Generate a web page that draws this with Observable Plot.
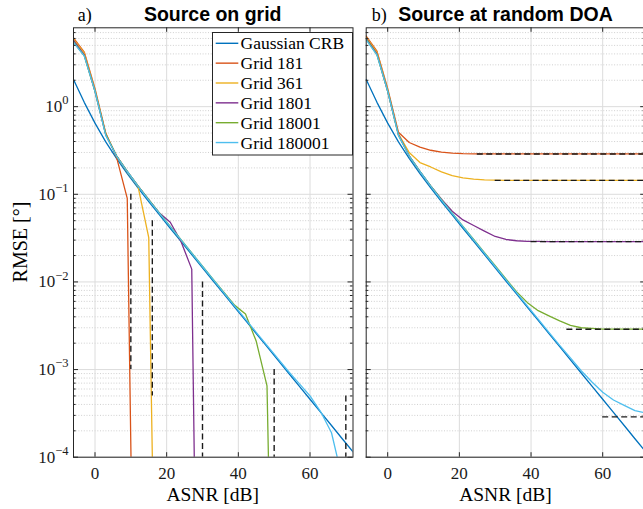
<!DOCTYPE html>
<html>
<head>
<meta charset="utf-8">
<script src="https://cdn.jsdelivr.net/npm/d3@7"></script>
<script src="https://cdn.jsdelivr.net/npm/@observablehq/plot@0.6"></script>
<style>
  html, body { margin: 0; padding: 0; background: #fff; }
  #wrap { position: relative; width: 643px; height: 509px; overflow: hidden; background: #fff; }
  #wrap svg { position: absolute; top: 0; }
</style>
</head>
<body>
<div id="wrap"></div>
<script>
// ---------- data ----------
const asnr = [-6, -3, 0, 3, 6, 9, 12, 15, 18, 21, 24, 27, 30, 33, 36, 39, 42, 45, 48, 51, 54, 57, 60, 63, 66, 69, 72];

const gaussianCRB = [2.04, 1.12, 0.648, 0.397, 0.257, 0.1725, 0.1186, 0.0827, 0.0581, 0.041, 0.029, 0.0205, 0.01449, 0.01025, 0.00726, 0.00514, 0.00364, 0.002575, 0.001823, 0.001291, 0.000914, 0.000647, 0.000458, 0.000324, 0.00023, 0.0001625, 0.000115];

// a) Source on grid
const grid181OnGrid = [6.1, 4.2, 1.6, 0.50, 0.265, 0.09, 3e-10];
const grid361OnGrid = [5.9, 4.1, 1.55, 0.49, 0.275, 0.18, 0.123, 0.032, 1e-9];
const grid1801OnGrid = [5.7, 3.9, 1.5, 0.48, 0.275, 0.183, 0.125, 0.087, 0.061, 0.048, 0.029, 0.014, 1e-11];
const grid18001OnGrid = [5.5, 3.8, 1.5, 0.48, 0.275, 0.183, 0.125, 0.087, 0.061, 0.043, 0.0303, 0.0214, 0.0151, 0.0107, 0.0076, 0.0054, 0.0043, 0.0021, 0.00065, 5e-10];
const grid180001OnGrid = [5.4, 3.8, 1.5, 0.47, 0.273, 0.182, 0.124, 0.086, 0.0605, 0.0428, 0.0302, 0.0213, 0.015, 0.0106, 0.0075, 0.0053, 0.00376, 0.00266, 0.00189, 0.00134, 0.00095, 0.00069, 0.0005, 0.00033, 0.00019, 0.000057, 1e-10];

// b) Source at random DOA
const grid181Random = [6.4, 4.3, 1.6, 0.51, 0.39, 0.345, 0.318, 0.302, 0.295, 0.291, 0.2895, 0.289, 0.2888, 0.2888, 0.2888, 0.2888, 0.2888, 0.2888, 0.2888, 0.2888, 0.2888, 0.2888, 0.2888, 0.2888, 0.2888, 0.2888, 0.2888];
const grid361Random = [6.2, 4.2, 1.55, 0.49, 0.30, 0.23, 0.205, 0.18, 0.163, 0.154, 0.149, 0.146, 0.1448, 0.1444, 0.1444, 0.1444, 0.1444, 0.1444, 0.1444, 0.1444, 0.1444, 0.1444, 0.1444, 0.1444, 0.1444, 0.1444, 0.1444];
const grid1801Random = [6.0, 4.0, 1.5, 0.48, 0.275, 0.183, 0.125, 0.088, 0.064, 0.051, 0.044, 0.038, 0.033, 0.0305, 0.0295, 0.0291, 0.029, 0.0289, 0.0289, 0.0289, 0.0289, 0.0289, 0.0289, 0.0289, 0.0289, 0.0289, 0.0289];
const grid18001Random = [5.9, 3.9, 1.5, 0.47, 0.275, 0.183, 0.125, 0.087, 0.061, 0.043, 0.0305, 0.0216, 0.0153, 0.0108, 0.0077, 0.0058, 0.0047, 0.0041, 0.0036, 0.0032, 0.0030, 0.00295, 0.0029, 0.0029, 0.0029, 0.0029, 0.0029];
const grid180001Random = [5.8, 3.9, 1.5, 0.47, 0.273, 0.182, 0.124, 0.086, 0.0605, 0.0428, 0.0302, 0.0213, 0.015, 0.0106, 0.0075, 0.0053, 0.00376, 0.00266, 0.00189, 0.00136, 0.00097, 0.00072, 0.00055, 0.00045, 0.00039, 0.00034, 0.00032];

const seriesNames = ["Gaussian CRB", "Grid 181", "Grid 361", "Grid 1801", "Grid 18001", "Grid 180001"];
const seriesColors = ["#0072BD", "#D95319", "#EDB120", "#7E2F8E", "#77AC30", "#4DBEEE"];

// dashed threshold markers
const onGridDashX = [10, 16, 30, 50, 70];
const onGridDashTop = [0.1, 0.05, 0.01, 0.001, 0.0005];
const onGridDashBottom = [0.001, 0.0005, 0.0001, 0.00001, 0.000005];
const randomFloorLevel = [0.2887, 0.1443, 0.02887, 0.002887, 0.0002887];
const randomFloorStart = [25, 30, 40, 50, 60];

// axes
const xDomain = [-6, 72];
const yDomain = [1e-4, 7.94];
const xTicks = [0, 20, 40, 60];
const yTicks = [1e-4, 1e-3, 1e-2, 1e-1, 1];
const yMinor = yTicks.flatMap(d => [2, 3, 4, 5, 6, 7, 8, 9].map(m => m * d)).filter(v => v <= yDomain[1]);

// ---------- helpers ----------
function rowsOf(seriesList) {
  const rows = [];
  seriesList.forEach((vals, k) => vals.forEach((v, i) => rows.push({name: seriesNames[k], x: asnr[i], y: v})));
  return rows;
}
const onGridRows = rowsOf([gaussianCRB, grid181OnGrid, grid361OnGrid, grid1801OnGrid, grid18001OnGrid, grid180001OnGrid]);
const randomRows = rowsOf([gaussianCRB, grid181Random, grid361Random, grid1801Random, grid18001Random, grid180001Random]);
const onGridDash = onGridDashX.map((x, i) => ({x, top: onGridDashTop[i], bottom: onGridDashBottom[i]}));
const randomFloor = randomFloorLevel.map((y, i) => ({y, start: randomFloorStart[i]}));

const H_TOTAL = 509, MT = 27.3, MB = 52.3;
const AX = "#262626";
const SERIF = "'Liberation Serif', 'Times New Roman', serif";
const SANS = "'Liberation Sans', Arial, Helvetica, sans-serif";

function panel({rows, width, marginLeft, marginRight, showYLabels, extra}) {
  const W = width - marginLeft - marginRight;
  const H = H_TOTAL - MT - MB;
  const marks = [
    Plot.ruleY(yMinor, {y: d => d, stroke: "#c4c4c4", strokeWidth: 0.8, strokeDasharray: "1,1.7"}),
    Plot.ruleY(yTicks, {y: d => d, stroke: "#dcdcdc", strokeWidth: 1}),
    Plot.ruleX(xTicks, {x: d => d, stroke: "#dcdcdc", strokeWidth: 1}),
    Plot.line(rows, {x: "x", y: "y", z: "name", stroke: "name", strokeWidth: 1.3, clip: true}),
    ...extra,
    // inward ticks on all four sides
    Plot.tickY(yTicks, {y: d => d, insetRight: W - 5, stroke: AX}),
    Plot.tickY(yTicks, {y: d => d, insetLeft: W - 5, stroke: AX}),
    Plot.tickY(yMinor, {y: d => d, insetRight: W - 2.6, stroke: AX}),
    Plot.tickY(yMinor, {y: d => d, insetLeft: W - 2.6, stroke: AX}),
    Plot.tickX(xTicks, {x: d => d, insetTop: H - 4.5, stroke: AX}),
    Plot.tickX(xTicks, {x: d => d, insetBottom: H - 4.5, stroke: AX}),
    Plot.axisX({ticks: xTicks, tickSize: 0, tickPadding: 10, fontSize: 17, label: null, fontFamily: SERIF}),
    Plot.frame({stroke: AX, strokeWidth: 1})
  ];
  if (showYLabels) {
    marks.push(Plot.axisY({ticks: yTicks, tickSize: 0, tickPadding: 5, fontSize: 17, label: null, fontFamily: SERIF,
      tickFormat: d => "10^" + Math.round(Math.log10(d))}));
  }
  const svg = Plot.plot({
    width, height: H_TOTAL, marginLeft, marginRight, marginTop: MT, marginBottom: MB,
    x: {domain: xDomain, label: null},
    y: {type: "log", domain: yDomain, label: null, axis: showYLabels ? undefined : null},
    color: {domain: seriesNames, range: seriesColors},
    style: {fontFamily: SERIF, fontSize: "17px", color: "#1a1a1a", background: "transparent"},
    marks
  });
  // superscript exponents
  d3.select(svg).selectAll('[aria-label="y-axis tick label"] text').each(function () {
    const parts = this.textContent.split("^");
    if (parts.length < 2) return;
    this.textContent = "";
    const t = d3.select(this);
    t.append("tspan").text(parts[0]);
    t.append("tspan").attr("dy", "-0.62em").attr("font-size", "12.5px").text(parts[1].replace("-", "\u2212"));
  });
  return svg;
}

const wrap = document.getElementById("wrap");

// ---------- left panel ----------
const leftW = 360, leftML = 73, leftMR = 7.5;
const left = panel({
  rows: onGridRows, width: leftW, marginLeft: leftML, marginRight: leftMR, showYLabels: true,
  extra: [Plot.ruleX(onGridDash, {x: "x", y1: "top", y2: "bottom", stroke: "#1a1a1a", strokeWidth: 1.4, strokeDasharray: "6,3.5", clip: true})]
});
left.style.left = "0px";
wrap.appendChild(left);

// ---------- right panel ----------
const rightOffset = 360, rightW = 290, rightML = 5.7, rightMR = 4.8;
const right = panel({
  rows: randomRows, width: rightW, marginLeft: rightML, marginRight: rightMR, showYLabels: false,
  extra: [Plot.ruleY(randomFloor, {y: "y", x1: "start", x2: () => xDomain[1], stroke: "#1a1a1a", strokeWidth: 1.4, strokeDasharray: "6,3.5", clip: true})]
});
right.style.left = rightOffset + "px";
wrap.appendChild(right);

// ---------- texts ----------
function addText(svg, {x, y, text, size, family, weight, anchor, transform}) {
  const t = d3.select(svg).append("text")
    .attr("font-family", family).attr("font-size", size + "px")
    .attr("font-weight", weight || "normal").attr("fill", "#000")
    .attr("text-anchor", anchor || "start").text(text);
  if (transform) t.attr("transform", transform); else t.attr("x", x).attr("y", y);
  return t;
}
const leftCx = leftML + (leftW - leftML - leftMR) / 2;
const rightCx = rightML + (rightW - rightML - rightMR) / 2;

addText(left, {x: leftML + 4.7, y: 20.7, text: "a)", size: 18, family: SERIF});
addText(left, {x: leftCx, y: 20.7, text: "Source on grid", size: 19.5, family: SANS, weight: "bold", anchor: "middle"});
addText(left, {x: leftCx, y: 500.5, text: "ASNR [dB]", size: 19.5, family: SERIF, anchor: "middle"});
addText(left, {text: "RMSE [\u00B0]", size: 20, family: SERIF, anchor: "middle", transform: "translate(26.5,242) rotate(-90)"});

addText(right, {x: rightML + 6, y: 20.7, text: "b)", size: 18, family: SERIF});
addText(right, {x: rightCx, y: 20.7, text: "Source at random DOA", size: 19.5, family: SANS, weight: "bold", anchor: "middle"});
addText(right, {x: rightCx, y: 500.5, text: "ASNR [dB]", size: 19.5, family: SERIF, anchor: "middle"});

// ---------- legend (inside left panel, top-right) ----------
const lg = d3.select(left).append("g").attr("text-anchor", "start");
lg.append("rect").attr("x", 212.5).attr("y", 32.5).attr("width", 140).attr("height", 122.5)
  .attr("fill", "#fff").attr("stroke", AX).attr("stroke-width", 1);
seriesNames.forEach((name, i) => {
  const cy = 43.3 + i * 19.85;
  lg.append("line").attr("x1", 215.7).attr("x2", 238.3).attr("y1", cy).attr("y2", cy)
    .style("stroke", seriesColors[i]).style("stroke-width", "1.4px");
  lg.append("text").attr("x", 240.5).attr("y", cy + 6).style("font-family", SERIF)
    .attr("font-size", "17.5px").attr("fill", "#000").attr("text-anchor", "start").text(name);
});
</script>
</body>
</html>
